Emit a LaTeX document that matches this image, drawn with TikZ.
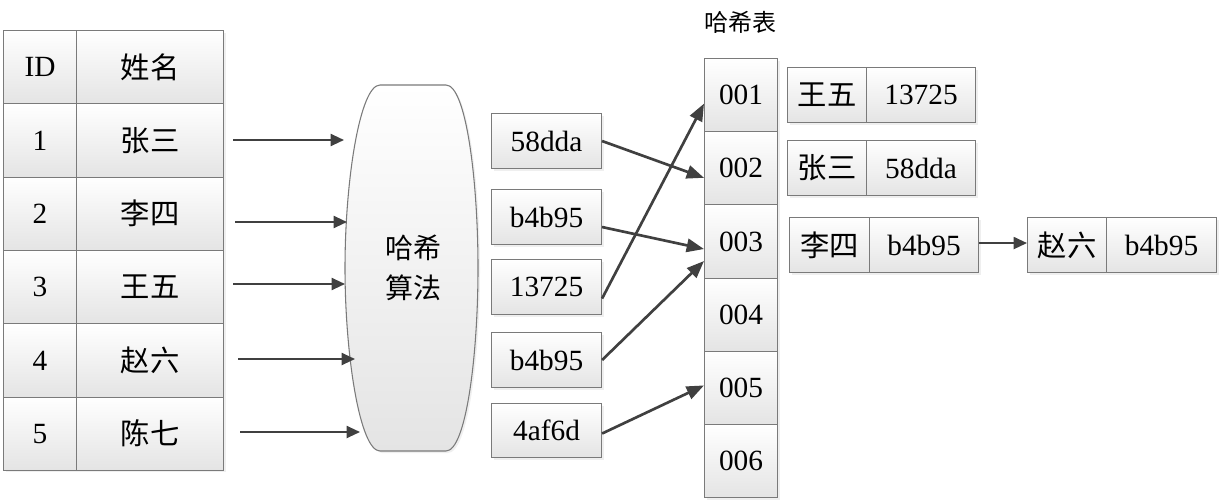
\documentclass[tikz,border=0pt]{standalone}
\usepackage{fontspec}
\setmainfont{Liberation Serif}
\newfontfamily\cjk{Noto Sans CJK SC}
\usetikzlibrary{arrows.meta,shadows,calc}
\newdimen\px \px=0.75pt
\definecolor{edgegray}{HTML}{7A7A7A}
\definecolor{arrowgray}{HTML}{404040}
\definecolor{fillbot}{HTML}{E4E4E4}
\tikzset{
  x=0.75pt, y=-0.75pt,
  cell/.style={draw=edgegray, line width=0.8pt, top color=white, bottom color=fillbot,
    drop shadow={shadow xshift=1.5pt, shadow yshift=-1.5pt, fill=black!12},
    inner sep=0pt, anchor=north west, font=\fontsize{22}{24}\selectfont},
  arr/.style={draw=arrowgray, line width=1.5pt, -{Triangle[length=10pt,width=9pt]}},
  darr/.style={draw=arrowgray, line width=2pt, -{Triangle[length=13pt,width=10pt]}},
}
\begin{document}
\begin{tikzpicture}
\useasboundingbox (0,0) rectangle (1223,503);
% ---- left table
\def\rh{73.3}
\node[cell, minimum width=73\px, minimum height=\rh\px] (id0) at (3,30) {ID};
\node[cell, minimum width=147\px, minimum height=\rh\px] (nm0) at (76,30) {\cjk 姓名};
\foreach \i/\n [evaluate=\i as \yy using {30+\i*73.3}] in {1/张三,2/李四,3/王五,4/赵六,5/陈七}{
  \node[cell, minimum width=73\px, minimum height=\rh\px] (id\i) at (3,\yy) {\i};
  \node[cell, minimum width=147\px, minimum height=\rh\px] (nm\i) at (76,\yy) {\cjk \n};
}
% ---- hash algorithm shape
\path[draw=edgegray, line width=0.8pt, top color=white, bottom color=fillbot,
  drop shadow={shadow xshift=1.5pt, shadow yshift=-1.5pt, fill=black!12}]
  (380,85) -- (446,85) .. controls (466,85) and (478,180) .. (478,268)
  .. controls (478,356) and (466,451) .. (446,451) -- (380,451)
  .. controls (360,451) and (345,356) .. (345,268)
  .. controls (345,180) and (360,85) .. (380,85) -- cycle;
\node[align=center, font=\cjk\fontsize{21}{30}\selectfont] (algo) at (413,268) {哈希\\算法};
\coordinate (e1) at (344,140);
\coordinate (e2) at (347,222);
\coordinate (e3) at (345,284);
\coordinate (e4) at (355,359);
\coordinate (e5) at (360,432);
\coordinate (s1) at (233,140);
\coordinate (s2) at (235,222);
\coordinate (s3) at (233,284);
\coordinate (s4) at (238,359);
\coordinate (s5) at (240,432);
\foreach \i in {1,...,5}{ \draw[arr] (s\i) -- (e\i); }
% ---- hash values
\node[cell, minimum width=110\px, minimum height=55\px] (v1) at (491,113) {58dda};
\node[cell, minimum width=110\px, minimum height=55\px] (v2) at (491,189) {b4b95};
\node[cell, minimum width=110\px, minimum height=55\px] (v3) at (491,259) {13725};
\node[cell, minimum width=110\px, minimum height=55\px] (v4) at (491,332) {b4b95};
\node[cell, minimum width=110\px, minimum height=54\px] (v5) at (491,403) {4af6d};
% ---- hash table
\node[font=\cjk\fontsize{18}{20}\selectfont] (title) at (740,22) {哈希表};
\foreach \i [evaluate=\i as \yy using {58+(\i-1)*73.2}] in {1,...,6}{
  \node[cell, minimum width=73\px, minimum height=73.2\px] (h\i) at (704,\yy) {00\i};
}
\draw[darr] (v1.east) -- ([yshift=-9.5\px]h2.west);
\draw[darr] ([yshift=-10\px]v2.east) -- ([yshift=-7.5\px]h3.west);
\draw[darr] ([yshift=-11.5\px]v3.east) -- ([yshift=-8.5\px]h1.west);
\draw[darr] (v4.east) -- ([yshift=-19.5\px]h3.west);
\draw[darr] ([yshift=-3\px]v5.east) -- ([yshift=2.5\px]h5.west);
% ---- records
\node[cell, minimum width=79\px, minimum height=55\px] (r1a) at (787,67) {\cjk 王五};
\node[cell, minimum width=109\px, minimum height=55\px] (r1b) at (866,67) {13725};
\node[cell, minimum width=79\px, minimum height=55\px] (r2a) at (787,140) {\cjk 张三};
\node[cell, minimum width=109\px, minimum height=55\px] (r2b) at (866,140) {58dda};
\node[cell, minimum width=80\px, minimum height=55\px] (r3a) at (789,217) {\cjk 李四};
\node[cell, minimum width=109\px, minimum height=55\px] (r3b) at (869,217) {b4b95};
\node[cell, minimum width=79\px, minimum height=55\px] (r4a) at (1027,217) {\cjk 赵六};
\node[cell, minimum width=110\px, minimum height=55\px] (r4b) at (1106,217) {b4b95};
\draw[arr] ([yshift=2\px]r3b.east) -- ([yshift=2\px]r4a.west);
\end{tikzpicture}
\end{document}
